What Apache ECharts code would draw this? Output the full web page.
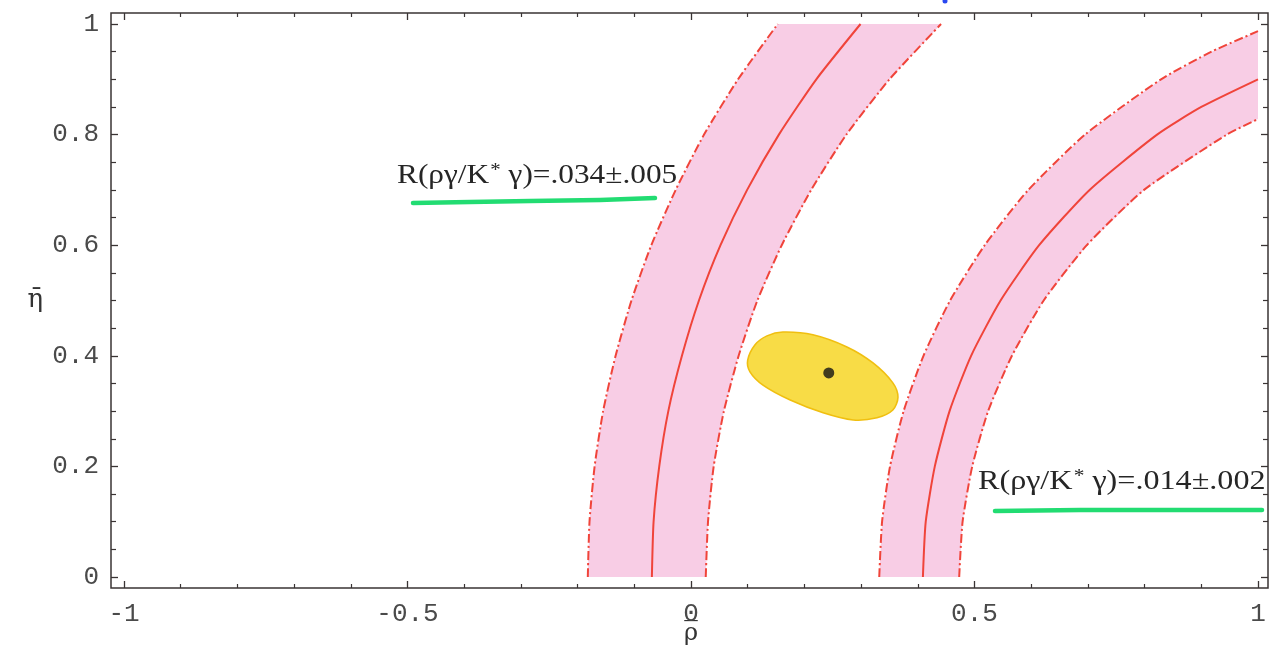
<!DOCTYPE html>
<html>
<head>
<meta charset="utf-8">
<script src="https://cdn.jsdelivr.net/npm/echarts@6/dist/echarts.min.js"></script>
<style>
  html, body { margin: 0; padding: 0; background: #ffffff; }
  #chart { width: 1275px; height: 664px; }
</style>
</head>
<body>
<div id="chart"></div>
<script>
// Tick labels
const xTickLabels = ['-1', '-0.5', '0', '0.5', '1'];
const yTickLabels = ['0', '0.2', '0.4', '0.6', '0.8', '1'];

// Constraint band R(ργ/K*γ) = .034 ± .005, points as [rho, eta]
const bandA_center = [[-0.069, 0], [-0.066, 0.1], [-0.056, 0.2], [-0.040, 0.3], [-0.016, 0.4], [0.014, 0.5],
  [0.052, 0.6], [0.099, 0.7], [0.155, 0.8], [0.221, 0.9], [0.299, 1.0]];
const bandA_outer = [[-0.182, 0], [-0.179, 0.1], [-0.170, 0.2], [-0.155, 0.3], [-0.133, 0.4], [-0.105, 0.5],
  [-0.070, 0.6], [-0.027, 0.7], [0.023, 0.8], [0.083, 0.9], [0.153, 1.0]];
const bandA_inner = [[0.026, 0], [0.030, 0.1], [0.040, 0.2], [0.058, 0.3], [0.084, 0.4], [0.117, 0.5],
  [0.160, 0.6], [0.212, 0.7], [0.274, 0.8], [0.350, 0.9], [0.441, 1.0]];

// Constraint band R(ργ/K*γ) = .014 ± .002
const bandB_center = [[0.409, 0], [0.414, 0.1], [0.430, 0.2], [0.456, 0.3], [0.494, 0.4], [0.546, 0.5],
  [0.614, 0.6], [0.703, 0.7], [0.822, 0.8], [0.900, 0.85], [1.0, 0.900]];
const bandB_outer = [[0.332, 0], [0.337, 0.1], [0.351, 0.2], [0.375, 0.3], [0.410, 0.4], [0.457, 0.5],
  [0.518, 0.6], [0.595, 0.7], [0.695, 0.8], [0.829, 0.9], [0.918, 0.95], [1.0, 0.987]];
const bandB_inner = [[0.473, 0], [0.479, 0.1], [0.496, 0.2], [0.524, 0.3], [0.566, 0.4], [0.622, 0.5],
  [0.698, 0.6], [0.799, 0.7], [0.945, 0.8], [1.0, 0.828]];

// Allowed region outline and its central value
const fitContour = [[0.100, 0.392], [0.113, 0.420], [0.134, 0.436], [0.162, 0.443], [0.215, 0.438],
  [0.275, 0.416], [0.321, 0.387], [0.356, 0.351], [0.365, 0.325], [0.356, 0.302], [0.328, 0.288],
  [0.286, 0.284], [0.233, 0.297], [0.175, 0.320], [0.127, 0.347], [0.104, 0.371]];
const fitCenter = [[0.243, 0.369]];

const labelA = 'R(ργ/K* γ)=.034±.005';
const labelB = 'R(ργ/K* γ)=.014±.002';

const RED = '#f0443a';
const PINK = '#f8cde5';
const TICK = '#3a3434';
const DASHDOT = [9, 3, 2, 3];

const chart = echarts.init(document.getElementById('chart'), null, { renderer: 'canvas' });

function bandFill(outer, inner) {
  return {
    type: 'custom', xAxisIndex: 0, yAxisIndex: 0, z: 1, silent: true,
    data: [[outer[0][0], outer[0][1]]],
    renderItem: (params, api) => {
      const pts = outer.concat(inner.slice().reverse()).map(p => api.coord(p));
      return { type: 'polygon', shape: { points: pts }, style: { fill: PINK } };
    }
  };
}

function curve(points, dashed) {
  return {
    type: 'line', xAxisIndex: 0, yAxisIndex: 0, z: 3, silent: true,
    data: points, showSymbol: false, smooth: 0.2,
    lineStyle: { color: RED, width: 2, type: dashed ? DASHDOT : 'solid' }
  };
}

function labelRich(text) {
  const parts = text.split('*');
  return '{a|' + parts[0] + '}{s|*}{a|' + parts[1] + '}';
}
const richStyle = {
  a: { fontFamily: 'Liberation Serif', fontSize: 27, fill: '#262626' },
  s: { fontFamily: 'Liberation Serif', fontSize: 18, fill: '#262626', verticalAlign: 'top', padding: [0, 0, 0, 1] }
};

const tickAxisCommon = {
  type: 'value',
  axisLine: { show: false, onZero: false },
  splitLine: { show: false },
  minorSplitLine: { show: false },
  axisTick: { show: true, inside: true, length: 7, lineStyle: { color: TICK, width: 1.3 } },
  minorTick: { show: true, length: 4, lineStyle: { color: TICK, width: 1.2 } }
};

const labelFont = { fontFamily: 'Liberation Mono', fontSize: 26, color: '#4a4a4a' };

const option = {
  backgroundColor: '#ffffff',
  animation: false,
  grid: [
    { left: 124, right: 17, top: 24, bottom: 87, containLabel: false, outerBoundsMode: 'none' },
    { left: 111, right: 7, top: 13, bottom: 76, containLabel: false, outerBoundsMode: 'none',
      show: true, borderColor: TICK, borderWidth: 1.5, backgroundColor: 'transparent', z: 10 }
  ],
  xAxis: [
    Object.assign({}, tickAxisCommon, {
      gridIndex: 0, position: 'bottom', offset: 11, min: -1, max: 1, interval: 0.5,
      minorTick: Object.assign({}, tickAxisCommon.minorTick, { splitNumber: 5 }),
      axisLabel: Object.assign({ margin: 13, formatter: (v, i) => xTickLabels[i] }, labelFont),
      // rho-bar: a bar line above the rho glyph
      name: '{b|\u2014}\n{r|ρ}', nameLocation: 'middle', nameGap: 29, nameMoveOverlap: false,
      nameTextStyle: {
        color: '#333',
        rich: {
          b: { fontFamily: 'DejaVu Sans', fontSize: 15, lineHeight: 8, color: '#333' },
          r: { fontFamily: 'DejaVu Serif', fontSize: 24, lineHeight: 18, color: '#333' }
        }
      }
    }),
    Object.assign({}, tickAxisCommon, {
      gridIndex: 0, position: 'top', offset: 11, min: -1, max: 1, interval: 0.5,
      minorTick: Object.assign({}, tickAxisCommon.minorTick, { splitNumber: 5 }),
      axisLabel: { show: false }
    }),
    { type: 'value', gridIndex: 1, show: false, min: 0, max: 1 }
  ],
  yAxis: [
    Object.assign({}, tickAxisCommon, {
      gridIndex: 0, position: 'left', offset: 13, min: 0, max: 1, interval: 0.2,
      minorTick: Object.assign({}, tickAxisCommon.minorTick, { splitNumber: 4, length: 5 }),
      axisLabel: Object.assign({ margin: 12, formatter: (v, i) => yTickLabels[i] }, labelFont),
      name: 'η\u0304', nameLocation: 'middle', nameGap: 68, nameRotate: 0, nameMoveOverlap: false,
      nameTextStyle: { fontFamily: 'DejaVu Serif', fontSize: 26, color: '#333' }
    }),
    Object.assign({}, tickAxisCommon, {
      gridIndex: 0, position: 'right', offset: 10, min: 0, max: 1, interval: 0.2,
      minorTick: Object.assign({}, tickAxisCommon.minorTick, { splitNumber: 4, length: 5 }),
      axisLabel: { show: false }
    }),
    { type: 'value', gridIndex: 1, show: false, min: 0, max: 1 }
  ],
  series: [
    bandFill(bandA_outer, bandA_inner),
    bandFill(bandB_outer, bandB_inner),
    curve(bandA_center, false),
    curve(bandA_outer, true),
    curve(bandA_inner, true),
    curve(bandB_center, false),
    curve(bandB_outer, true),
    curve(bandB_inner, true),
    {
      type: 'custom', xAxisIndex: 0, yAxisIndex: 0, z: 2, silent: true,
      data: [fitCenter[0]],
      renderItem: (params, api) => ({
        type: 'polygon',
        shape: { points: fitContour.map(p => api.coord(p)), smooth: 0.3 },
        style: { fill: '#f8dc46', stroke: '#f0bf10', lineWidth: 1.6 }
      })
    },
    {
      type: 'scatter', xAxisIndex: 0, yAxisIndex: 0, z: 4, silent: true,
      data: fitCenter, symbol: 'circle', symbolSize: 11,
      itemStyle: { color: '#141414' }
    }
  ],
  graphic: [
    // highlighter strokes under the band labels
    { type: 'polyline', z: 20, silent: true,
      shape: { points: [[413, 203], [470, 202], [530, 201], [600, 200], [655, 198]] },
      style: { stroke: '#22dc72', lineWidth: 4.5, lineCap: 'round', fill: null } },
    { type: 'polyline', z: 20, silent: true,
      shape: { points: [[995, 511], [1080, 510], [1170, 510], [1262, 510]] },
      style: { stroke: '#22dc72', lineWidth: 4.5, lineCap: 'round', fill: null } },
    { type: 'text', x: 397, y: 162, scaleX: 1.16, z: 21, silent: true,
      style: { text: labelRich(labelA), rich: richStyle } },
    { type: 'text', x: 978, y: 468, scaleX: 1.19, z: 21, silent: true,
      style: { text: labelRich(labelB), rich: richStyle } },
    // small blue mark at the top edge
    { type: 'circle', z: 21, silent: true, shape: { cx: 945, cy: 1, r: 2.5 }, style: { fill: '#2a48f0' } }
  ]
};

chart.setOption(option);
</script>
</body>
</html>
